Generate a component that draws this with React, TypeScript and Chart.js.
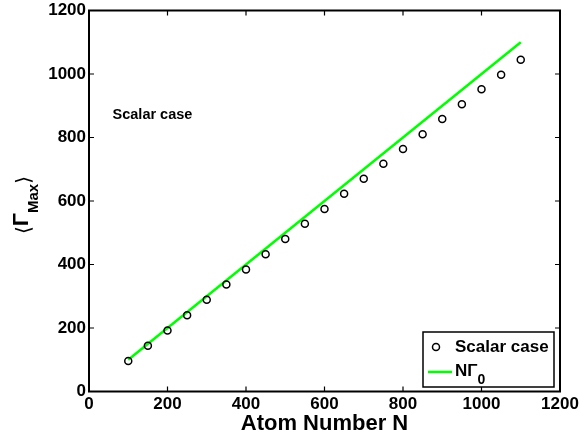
import React, { useEffect, useRef } from "react";
import { Chart, registerables } from "chart.js";

Chart.register(...registerables);

const atomNumbers = [100, 150, 200, 250, 300, 350, 400, 450, 500, 550, 600, 650, 700, 750, 800, 850, 900, 950, 1000, 1050, 1100];
const scalarValues = [96, 144, 192, 240, 289, 337, 384, 432, 480, 528, 575, 623, 670, 717, 764, 810, 858, 905, 952, 998, 1045];
const lineN = [100, 1100];
const lineValues = [100, 1100];
const xTicks = [0, 200, 400, 600, 800, 1000, 1200];
const yTicks = [0, 200, 400, 600, 800, 1000, 1200];
const annotationText = "Scalar case";
const annotationPos = [60, 870];
const legendLabels = ["Scalar case", "NΓ"];
const FONT = "'Liberation Sans', Arial, Helvetica, sans-serif";

const boxPlugin = {
  id: "matlabBox",
  afterDraw(chart: any) {
    const ctx = chart.ctx;
    const { left, right, top, bottom } = chart.chartArea;
    const xs = chart.scales.x;
    const ys = chart.scales.y;
    ctx.save();
    ctx.strokeStyle = "#000";
    ctx.lineWidth = 2;
    ctx.strokeRect(left, top, right - left, bottom - top);
    ctx.lineWidth = 1.2;
    const tl = 5;
    ctx.beginPath();
    xTicks.forEach((v) => {
      const px = xs.getPixelForValue(v);
      ctx.moveTo(px, bottom);
      ctx.lineTo(px, bottom - tl);
      ctx.moveTo(px, top);
      ctx.lineTo(px, top + tl);
    });
    yTicks.forEach((v) => {
      const py = ys.getPixelForValue(v);
      ctx.moveTo(left, py);
      ctx.lineTo(left + tl, py);
      ctx.moveTo(right, py);
      ctx.lineTo(right - tl, py);
    });
    ctx.stroke();

    // annotation
    ctx.fillStyle = "#000";
    ctx.font = `bold 14.5px ${FONT}`;
    ctx.textAlign = "left";
    ctx.textBaseline = "middle";
    ctx.fillText(annotationText, xs.getPixelForValue(annotationPos[0]), ys.getPixelForValue(annotationPos[1]));

    // y title
    ctx.save();
    const cy = (top + bottom) / 2 + 4;
    ctx.translate(28, cy);
    ctx.rotate(-Math.PI / 2);
    const big = `bold 22px ${FONT}`;
    const sub = `bold 15px ${FONT}`;
    const brk = `20px 'DejaVu Sans', sans-serif`;
    ctx.textBaseline = "alphabetic";
    ctx.textAlign = "left";
    ctx.font = brk;
    const wl = ctx.measureText("⟨").width;
    const wr = ctx.measureText("⟩").width;
    ctx.font = big;
    const wg = ctx.measureText("Γ").width;
    ctx.font = sub;
    const wm = ctx.measureText("Max").width;
    const total = wl + wg + wm + wr;
    let x = -total / 2;
    ctx.font = brk;
    ctx.fillText("⟨", x, 2);
    x += wl;
    ctx.font = big;
    ctx.fillText("Γ", x, 0);
    x += wg;
    ctx.font = sub;
    ctx.fillText("Max", x, 10);
    x += wm;
    ctx.font = brk;
    ctx.fillText("⟩", x, 2);
    ctx.restore();

    // legend
    const bw = 131;
    const bh = 55;
    const bl = right - 6 - bw;
    const bt = bottom - 4.5 - bh;
    ctx.fillStyle = "#fff";
    ctx.fillRect(bl, bt, bw, bh);
    ctx.strokeStyle = "#000";
    ctx.lineWidth = 1.5;
    ctx.strokeRect(bl, bt, bw, bh);
    const ds0 = chart.data.datasets[0];
    const ds1 = chart.data.datasets[1];
    ctx.beginPath();
    ctx.lineWidth = ds0.borderWidth;
    ctx.arc(bl + 13, bt + 15, ds0.pointRadius, 0, Math.PI * 2);
    ctx.stroke();
    ctx.fillStyle = "#000";
    ctx.font = `bold 17px ${FONT}`;
    ctx.textBaseline = "middle";
    ctx.fillText(ds0.label, bl + 32, bt + 15);
    ctx.beginPath();
    ctx.strokeStyle = ds1.borderColor;
    ctx.lineWidth = ds1.borderWidth;
    ctx.moveTo(bl + 5, bt + 40);
    ctx.lineTo(bl + 29, bt + 40);
    ctx.stroke();
    ctx.fillStyle = "#000";
    ctx.font = `bold 17px ${FONT}`;
    ctx.fillText(ds1.label, bl + 32, bt + 39);
    const wn = ctx.measureText(ds1.label).width;
    ctx.font = `bold 14px ${FONT}`;
    ctx.fillText("0", bl + 32 + wn, bt + 48);
    ctx.restore();
  },
};

export default function App() {
  const ref = useRef<HTMLCanvasElement>(null);
  useEffect(() => {
    if (!ref.current) return;
    const chart = new Chart(ref.current, {
      type: "scatter",
      data: {
        datasets: [
          {
            label: legendLabels[0],
            data: atomNumbers.map((n, i) => ({ x: n, y: scalarValues[i] })),
            showLine: false,
            pointRadius: 3.5,
            pointBorderWidth: 1.5,
            borderWidth: 1.5,
            pointBackgroundColor: "rgba(0,0,0,0)",
            pointBorderColor: "#000",
            borderColor: "#000",
          },
          {
            label: legendLabels[1],
            data: lineN.map((n, i) => ({ x: n, y: lineValues[i] })),
            showLine: true,
            pointRadius: 0,
            borderColor: "#00ff00",
            borderWidth: 2.5,
          },
        ],
      },
      options: {
        animation: false,
        responsive: false,
        layout: { padding: { left: 0, top: 10.5, right: 21, bottom: 0 } },
        plugins: { legend: { display: false }, tooltip: { enabled: false } },
        scales: {
          x: {
            type: "linear",
            min: 0,
            max: 1200,
            afterFit: (s: any) => {
              s.height = 47.5;
              s.paddingLeft = 0;
              s.paddingRight = 0;
            },
            afterBuildTicks: (s: any) => {
              s.ticks = xTicks.map((v) => ({ value: v }));
            },
            grid: { display: false, drawTicks: false },
            border: { display: false },
            ticks: {
              color: "#000",
              padding: 3,
              maxRotation: 0,
              callback: (v: any) => String(v),
              font: { family: FONT, size: 17, weight: "bold" },
            },
            title: {
              display: true,
              text: "Atom Number N",
              color: "#000",
              font: { family: FONT, size: 22, weight: "bold" },
              padding: { top: 0, bottom: 2 },
            },
          },
          y: {
            type: "linear",
            min: 0,
            max: 1200,
            afterFit: (s: any) => {
              s.width = 89;
              s.paddingTop = 0;
              s.paddingBottom = 0;
            },
            afterBuildTicks: (s: any) => {
              s.ticks = yTicks.map((v) => ({ value: v }));
            },
            grid: { display: false, drawTicks: false },
            border: { display: false },
            ticks: {
              color: "#000",
              padding: 3,
              callback: (v: any) => String(v),
              font: { family: FONT, size: 17, weight: "bold" },
            },
          },
        },
      },
      plugins: [boxPlugin],
    });
    return () => chart.destroy();
  }, []);
  return (
    <div style={{ position: "fixed", left: 0, top: 0, width: 581, height: 439, background: "#fff" }}>
      <canvas ref={ref} width={581} height={439} />
    </div>
  );
}
